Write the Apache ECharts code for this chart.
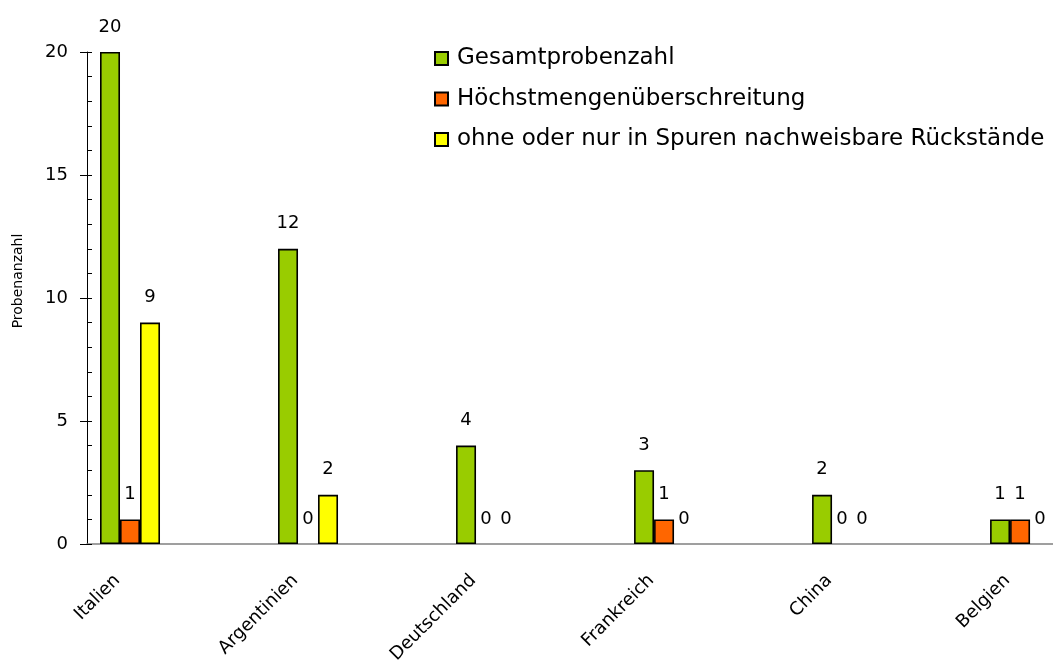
<!DOCTYPE html>
<html>
<head>
<meta charset="utf-8">
<script src="https://cdn.jsdelivr.net/npm/echarts@6/dist/echarts.min.js"></script>
<style>html,body{margin:0;padding:0;background:#fff;}#c{width:1053px;height:666px;}</style>
</head>
<body>
<div id="c"></div>
<script>
const categories = ['Italien', 'Argentinien', 'Deutschland', 'Frankreich', 'China', 'Belgien'];
const seriesNames = ['Gesamtprobenzahl', 'Höchstmengenüberschreitung', 'ohne oder nur in Spuren nachweisbare Rückstände'];
const gesamt = [20, 12, 4, 3, 2, 1];
const hoechst = [1, 0, 0, 1, 0, 1];
const ohne = [9, 2, 0, 0, 0, 0];
const yTicks = [0, 5, 10, 15, 20];
const colors = ['#99CC00', '#FF6600', '#FFFF00'];

const FONT = 'DejaVu Sans';
const chart = echarts.init(document.getElementById('c'), null, {renderer: 'canvas'});
const values = [gesamt, hoechst, ohne];

const series = values.map((arr, si) => ({
  name: seriesNames[si],
  type: 'bar',
  xAxisIndex: 0,
  yAxisIndex: 0,
  barWidth: 20,
  barGap: '0%',
  data: arr.map((v, i) => ({
    value: [i, v],
    itemStyle: v === 0 ? {borderWidth: 0} : undefined
  })),
  itemStyle: {color: colors[si], borderColor: '#000', borderWidth: 1.6},
  label: {
    show: true, position: 'top', distance: 16,
    formatter: p => String(p.value[1]),
    fontFamily: FONT, fontSize: 18, color: '#000'
  }
}));

chart.setOption({
  animation: false,
  backgroundColor: '#fff',
  textStyle: {fontFamily: FONT},
  grid: {left: 87, right: 0, top: 52, bottom: 122, containLabel: false, outerBoundsMode: 'none'},
  legend: {
    orient: 'vertical', left: 434, top: 47, padding: 0,
    itemWidth: 13, itemHeight: 13, itemGap: 17.5,
    icon: 'rect', selectedMode: false,
    data: seriesNames,
    textStyle: {fontFamily: FONT, fontSize: 23, color: '#000', padding: [0, 0, 0, 4]}
  },
  xAxis: {
    type: 'value',
    min: -0.2416, max: 5.185,
    axisLine: {show: true, onZero: true, lineStyle: {color: '#808080', width: 1.5}},
    axisTick: {show: false},
    splitLine: {show: false},
    axisLabel: {
      customValues: categories.map((c, i) => i),
      formatter: v => categories[Math.round(v)],
      rotate: 45, margin: 21,
      padding: [0, 18, 0, 0],
      fontFamily: FONT, fontSize: 18, color: '#000'
    }
  },
  yAxis: [{
    type: 'value', position: 'left', min: 0, max: 20, interval: 5,
    axisLine: {show: true, onZero: false, lineStyle: {color: '#000', width: 1}},
    axisTick: {show: true, inside: false, length: 7, lineStyle: {color: '#000'}},
    axisLabel: {fontFamily: FONT, fontSize: 18, color: '#000', margin: 19},
    splitLine: {show: false},
    name: 'Probenanzahl', nameLocation: 'middle', nameGap: 62, nameRotate: 90,
    nameTextStyle: {fontFamily: FONT, fontSize: 14, color: '#000', padding: [0, 0, 0, 34]}
  }, {
    type: 'value', position: 'left', min: 0, max: 20, interval: 5, offset: 0,
    axisLine: {show: false, onZero: false},
    axisTick: {show: true, inside: true, length: 5, lineStyle: {color: '#000'}},
    minorTick: {show: true, splitNumber: 5, length: 5, lineStyle: {color: '#000'}},
    axisLabel: {show: false},
    splitLine: {show: false}
  }],
  series: series
});
</script>
</body>
</html>
